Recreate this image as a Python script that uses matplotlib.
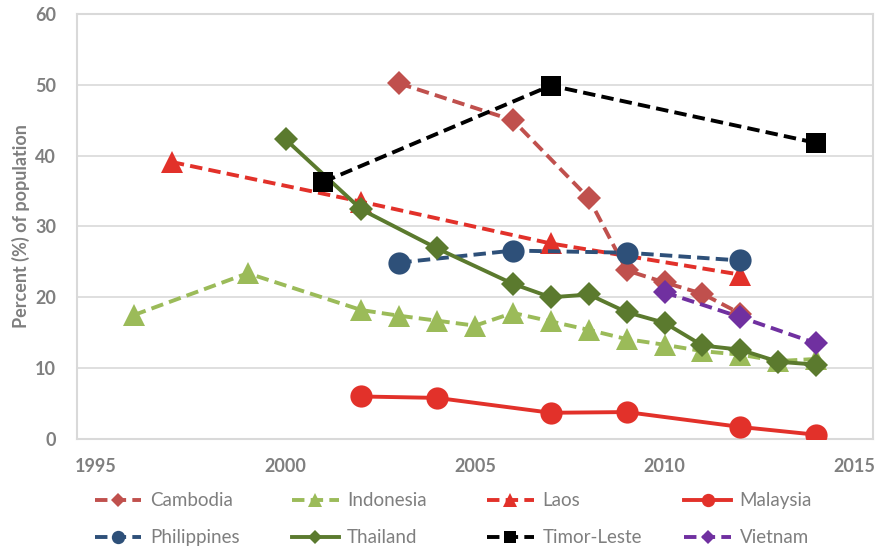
import matplotlib
matplotlib.use("Agg")
import matplotlib.pyplot as plt
from matplotlib.lines import Line2D

plt.rcParams['font.family'] = ['Lato', 'DejaVu Sans']

# Poverty headcount series (percent of population), by country
cambodia_years = [2003, 2006, 2008, 2009, 2010, 2011, 2012]
cambodia_vals = [50.2, 45.0, 34.0, 23.8, 22.1, 20.5, 17.7]

indonesia_years = [1996, 1999, 2002, 2003, 2004, 2005, 2006, 2007, 2008, 2009, 2010, 2011, 2012, 2013, 2014]
indonesia_vals = [17.5, 23.4, 18.2, 17.4, 16.7, 16.0, 17.8, 16.6, 15.4, 14.1, 13.3, 12.4, 11.9, 11.0, 11.3]

laos_years = [1997, 2002, 2007, 2012]
laos_vals = [39.1, 33.5, 27.6, 23.2]

malaysia_years = [2002, 2004, 2007, 2009, 2012, 2014]
malaysia_vals = [6.0, 5.8, 3.7, 3.8, 1.7, 0.6]

philippines_years = [2003, 2006, 2009, 2012]
philippines_vals = [24.9, 26.6, 26.3, 25.2]

thailand_years = [2000, 2002, 2004, 2006, 2007, 2008, 2009, 2010, 2011, 2012, 2013, 2014]
thailand_vals = [42.3, 32.4, 26.9, 21.9, 20.0, 20.4, 17.9, 16.4, 13.2, 12.6, 10.9, 10.5]

timor_years = [2001, 2007, 2014]
timor_vals = [36.3, 49.9, 41.8]

vietnam_years = [2010, 2012, 2014]
vietnam_vals = [20.7, 17.2, 13.5]

x_ticks = [1995, 2000, 2005, 2010, 2015]
y_ticks = [0, 10, 20, 30, 40, 50, 60]

DASH = (0, (3.2, 1.6))
series = [
    ("Cambodia", cambodia_years, cambodia_vals, "#C0504D", DASH, "D", 12.5),
    ("Indonesia", indonesia_years, indonesia_vals, "#9BBB59", DASH, "^", 16),
    ("Laos", laos_years, laos_vals, "#E2312A", DASH, "^", 16),
    ("Malaysia", malaysia_years, malaysia_vals, "#E2312A", "-", "o", 16),
    ("Philippines", philippines_years, philippines_vals, "#2E5079", DASH, "o", 16),
    ("Thailand", thailand_years, thailand_vals, "#5B7A2E", "-", "D", 12.5),
    ("Timor-Leste", timor_years, timor_vals, "#000000", DASH, "s", 15),
    ("Vietnam", vietnam_years, vietnam_vals, "#7030A0", DASH, "D", 12.5),
]

fig = plt.figure(figsize=(8.76, 5.49), dpi=100)
ax = fig.add_axes([0.088, 0.2004, 0.9086, 0.7741])

grey_text = "#7F7F7F"
grid_col = "#D9D9D9"

legend_handles = []
for i, (name, xs, ys, col, ls, mk, ms) in enumerate(series):
    ax.plot(xs, ys, color=col, linestyle=ls, linewidth=2.8, marker=mk,
            markersize=ms, markeredgewidth=0, zorder=3 + i)
    legend_handles.append(Line2D([], [], color=col, linestyle=ls, linewidth=2.8,
                                 marker=mk, markersize=ms * 0.6, markeredgewidth=0))

ax.set_xlim(1994.5, 2015.5)
ax.set_ylim(0, 60)
ax.set_xticks(x_ticks)
ax.set_yticks(y_ticks)
ax.tick_params(length=0, labelsize=13, labelcolor=grey_text)
ax.tick_params(axis="x", pad=14)
ax.tick_params(axis="y", pad=15)
for lab in ax.get_xticklabels() + ax.get_yticklabels():
    lab.set_fontweight("bold")
ax.grid(axis="y", color=grid_col, linewidth=1.2, zorder=0)
ax.set_axisbelow(True)
for s in ax.spines.values():
    s.set_color(grid_col)
    s.set_linewidth(1.5)

ax.set_ylabel("Percent (%) of population", fontsize=13, fontweight="bold",
              color=grey_text, labelpad=4)

# Legend laid out as four equal-width columns beneath the plot
col_x = [0.108, 0.333, 0.556, 0.781]
for c in range(4):
    hs = [legend_handles[c], legend_handles[c + 4]]
    labs = [series[c][0], series[c + 4][0]]
    leg = fig.legend(hs, labs, loc="upper left", bbox_to_anchor=(col_x[c], 0.103),
                     frameon=False, fontsize=13.5, handlelength=2.5, handletextpad=0.45,
                     labelspacing=1.05, borderpad=0, borderaxespad=0)
    for t in leg.get_texts():
        t.set_color(grey_text)

fig.savefig("out.png", dpi=100)
